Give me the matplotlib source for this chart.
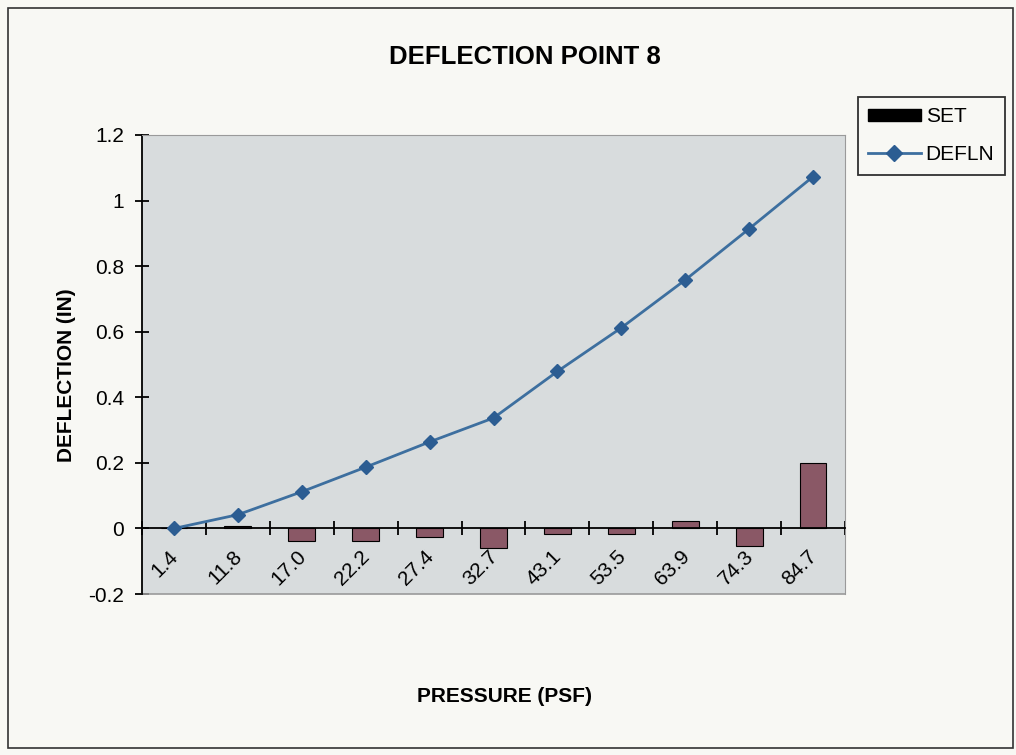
import matplotlib
matplotlib.use("Agg")
import matplotlib.pyplot as plt
import matplotlib.transforms as mtransforms
import numpy as np
from matplotlib.patches import Patch, Rectangle
from matplotlib.lines import Line2D

plt.rcParams['font.family'] = ['Liberation Sans', 'DejaVu Sans']

pressures = ['1.4', '11.8', '17.0', '22.2', '27.4', '32.7', '43.1', '53.5', '63.9', '74.3', '84.7']
set_vals = [0.0, 0.007, -0.038, -0.038, -0.026, -0.06, -0.016, -0.016, 0.024, -0.055, 0.2]
defln_vals = [0.0, 0.042, 0.112, 0.187, 0.264, 0.337, 0.479, 0.612, 0.758, 0.914, 1.073]
y_ticks = [-0.2, 0, 0.2, 0.4, 0.6, 0.8, 1, 1.2]
y_labels = ['-0.2', '0', '0.2', '0.4', '0.6', '0.8', '1', '1.2']

bg = '#f8f8f4'
line_col = '#3d6f9f'
marker_col = '#2c5d92'

fig = plt.figure(figsize=(10.16, 7.55), dpi=100, facecolor=bg)

# outer chart border
fig.patches.append(Rectangle((0.008, 0.009), 0.989, 0.981, transform=fig.transFigure,
                             fill=False, edgecolor='#333333', linewidth=1.2))

ax = fig.add_axes([0.1398, 0.2132, 0.6919, 0.608])
ax.set_facecolor('#d8dcdd')

x = np.arange(len(pressures))
ax.bar(x, set_vals, width=0.42, color='#8a5866', edgecolor='black', linewidth=0.8, zorder=2)
ax.plot(x, defln_vals, color=line_col, linewidth=2, marker='D', markersize=7,
        markerfacecolor=marker_col, markeredgecolor=marker_col, zorder=3)

ax.set_xlim(-0.5, len(pressures) - 0.5)
ax.set_ylim(-0.2, 1.2)

# spines: grey plot-area border, black axes
for s in ['top', 'right']:
    ax.spines[s].set_color('#9a9a9a')
ax.spines['left'].set_color('black')
ax.spines['left'].set_linewidth(1.3)
ax.spines['bottom'].set_position(('data', 0))
ax.spines['bottom'].set_linewidth(1.3)
ax.plot([0, 1], [0, 0], transform=ax.transAxes, color='#9a9a9a', linewidth=1.2, clip_on=False)

ax.set_yticks(y_ticks)
ax.set_yticklabels(y_labels, fontsize=15)
ax.tick_params(axis='y', direction='inout', length=10, width=1.3, pad=8)

ax.set_xticks(np.arange(-0.5, len(pressures)), minor=False)
ax.set_xticklabels([])
ax.set_xticks(x, minor=True)
ax.set_xticklabels(pressures, minor=True, rotation=45, ha='right', va='top', fontsize=15)
ax.tick_params(axis='x', which='major', direction='inout', length=10, width=1.3)
ax.tick_params(axis='x', which='minor', length=0, pad=13)
shift = mtransforms.ScaledTranslation(8 / 100, 0, fig.dpi_scale_trans)
for lbl in ax.get_xticklabels(minor=True):
    lbl.set_transform(lbl.get_transform() + shift)

ax.set_ylabel('DEFLECTION (IN)', fontsize=15, fontweight='bold')
ax.yaxis.set_label_coords(-0.094, 0.477)

fig.text(0.517, 0.924, 'DEFLECTION POINT 8', ha='center', va='center', fontsize=18.5, fontweight='bold')
fig.text(0.497, 0.077, 'PRESSURE (PSF)', ha='center', va='center', fontsize=15, fontweight='bold')

handles = [Patch(facecolor='black', edgecolor='black'),
           Line2D([0], [0], color=line_col, linewidth=2, marker='D', markersize=8,
                  markerfacecolor=marker_col, markeredgecolor=marker_col)]
leg = fig.legend(handles, ['SET', 'DEFLN'], loc='upper left', bbox_to_anchor=(0.8445, 0.8715),
                 bbox_transform=fig.transFigure, fontsize=15, frameon=True, fancybox=False,
                 edgecolor='black', facecolor=bg, borderaxespad=0, handlelength=2.5,
                 labelspacing=0.9, borderpad=0.5, handletextpad=0.25)
leg.get_frame().set_linewidth(1.3)
for p in leg.get_patches():
    old_h = p.get_height()
    p.set_height(8.5)
    p.set_y(p.get_y() + (old_h - 8.5) / 2)

fig.savefig('out.png', dpi=100, facecolor=bg)
